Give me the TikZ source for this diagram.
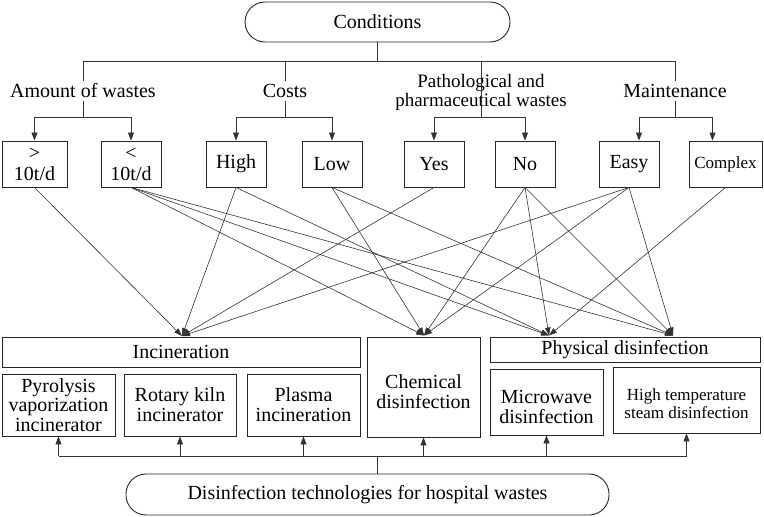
\documentclass[tikz,border=0pt]{standalone}
\usepackage{fontspec}
\setmainfont{Liberation Serif}
\usetikzlibrary{arrows.meta,calc}
\begin{document}
\begin{tikzpicture}[x=1pt,y=-1pt,
  box/.style={draw=black!85,line width=0.9pt,inner sep=1pt,align=center,font=\fontsize{20}{20}\selectfont},
  txt/.style={inner sep=0pt,align=center,font=\fontsize{20}{20}\selectfont},
  rbox/.style={draw=black!85,line width=0.9pt,rounded corners=20pt,font=\fontsize{20}{22}\selectfont},
  lbl/.style={inner xsep=1pt,inner ysep=3pt,align=center,font=\fontsize{20}{19}\selectfont},
  ln/.style={draw=black!80,line width=0.7pt},
  arr/.style={ln,-{Triangle[length=8pt,width=6pt]}},
  fan/.style={ln,line width=0.6pt,-{Triangle[length=8pt,width=5.5pt]}},
]
\useasboundingbox (0,0) rectangle (764,517);

% top
\node[rbox,minimum width=265pt,minimum height=40pt] (cond) at (377.5,22) {Conditions};
\node[lbl] (amt) at (83,91) {Amount of wastes};
\node[lbl] (cost) at (285,91) {Costs};
\node[lbl,font=\fontsize{19}{19}\selectfont] (path) at (481,92) {Pathological and\\pharmaceutical wastes};
\node[lbl] (maint) at (675,91) {Maintenance};

\coordinate (hl) at (0,61);
\coordinate (sl) at (0,117);

% condition boxes
\node[box,minimum width=65pt,minimum height=46pt,font=\fontsize{20}{21}\selectfont] (gt) at (34.5,164) {>\\10t/d};
\node[box,minimum width=60pt,minimum height=46pt,font=\fontsize{20}{21}\selectfont] (lt) at (131,164) {<\\10t/d};
\node[box,minimum width=60pt,minimum height=46pt] (high) at (236,164) {High};
\node[box,minimum width=60pt,minimum height=46pt] (low) at (332,164) {Low};
\node[box,minimum width=60pt,minimum height=46pt] (yes) at (434,164) {Yes};
\node[box,minimum width=60pt,minimum height=46pt] (no) at (525,164) {No};
\node[box,minimum width=60pt,minimum height=46pt] (easy) at (629,164) {Easy};
\node[box,minimum width=73pt,minimum height=46pt,font=\fontsize{17}{18}\selectfont] (cplx) at (725.5,164) {Complex};

% tree lines
\draw[ln] (cond.south) -- (cond.south |- hl);
\draw[ln] (amt.north) |- (hl -| maint.north) -- (maint.north);
\draw[ln] (cost.north) -- (cost.north |- hl);
\draw[ln] (path.north |- hl) -- (path.north |- sl);

\draw[ln] (amt.south) -- (amt.south |- sl);
\draw[arr] (amt.south |- sl) -| (gt.north);
\draw[arr] (amt.south |- sl) -| (lt.north);
\draw[ln] (cost.south) -- (cost.south |- sl);
\draw[arr] (cost.south |- sl) -| (high.north);
\draw[arr] (cost.south |- sl) -| (low.north);
\draw[arr] (path.north |- sl) -| (yes.north);
\draw[arr] (path.north |- sl) -| (no.north);
\draw[ln] (maint.south) -- (maint.south |- sl);
\draw[arr] (maint.south |- sl) -| ([xshift=10pt]easy.north);
\draw[arr] (maint.south |- sl) -| ([xshift=-13pt]cplx.north);

% technology boxes
\node[box,minimum width=358pt,minimum height=30pt] (inc) at (181,352) {Incineration};
\node[box,minimum width=113pt,minimum height=100pt] (chem) at (423.5,387) {};
\node[txt] (chemT) at (423.5,392) {Chemical\\disinfection};
\node[box,minimum width=270pt,minimum height=25pt] (phys) at (625,349.5) {Physical disinfection};
\node[box,minimum width=113pt,minimum height=62pt,font=\fontsize{20}{19.5}\selectfont] (pyro) at (58.5,405) {Pyrolysis\\vaporization\\incinerator};
\node[box,minimum width=112pt,minimum height=62pt] (rot) at (180,405) {Rotary kiln\\incinerator};
\node[box,minimum width=113pt,minimum height=62pt] (plas) at (303.5,405) {Plasma\\incineration};
\node[box,minimum width=113pt,minimum height=66pt] (micro) at (546.5,402) {};
\node[txt] (microT) at (546.5,407) {Microwave\\disinfection};
\node[box,minimum width=147pt,minimum height=66pt] (htemp) at (686.5,400) {};
\node[txt,font=\fontsize{17}{18}\selectfont] (htempT) at (686.5,404) {High temperature\\steam disinfection};

% fan targets
\coordinate (tInc) at (182,336);
\coordinate (tChem) at (424,335.5);
\coordinate (tP1) at (549,335.5);
\coordinate (tP2) at (673,335.5);

\draw[fan] (gt.south) -- (tInc);
\draw[fan] (high.south) -- (tInc);
\draw[fan] (yes.south) -- (tInc);
\draw[fan] (easy.south) -- (tInc);

\draw[fan] (lt.south) -- (tChem);
\draw[fan] (lt.south) -- (tP1);
\draw[fan] (lt.south) -- (tP2);
\draw[fan] (high.south) -- (tP1);
\draw[fan] (low.south) -- (tChem);
\draw[fan] (low.south) -- (tP2);
\draw[fan] (no.south) -- (tChem);
\draw[fan] (no.south) -- (tP1);
\draw[fan] (no.south) -- (tP2);
\draw[fan] (easy.south) -- (tChem);
\draw[fan] (easy.south) -- (tP2);
\draw[fan] (cplx.south) -- (tP1);

% bottom
\node[rbox,minimum width=483pt,minimum height=41pt] (bot) at (367.5,494.5) {Disinfection technologies for hospital wastes};
\coordinate (bl) at (0,456);
\coordinate (bj) at (377,456);
\draw[ln] (bj) -- (bj |- bot.north);
\draw[ln] (bl -| pyro.south) -- (bl -| htemp.south);
\foreach \n in {pyro,rot,plas,chem,micro,htemp}
  \draw[arr] (bl -| \n.south) -- (\n.south);
\end{tikzpicture}
\end{document}
